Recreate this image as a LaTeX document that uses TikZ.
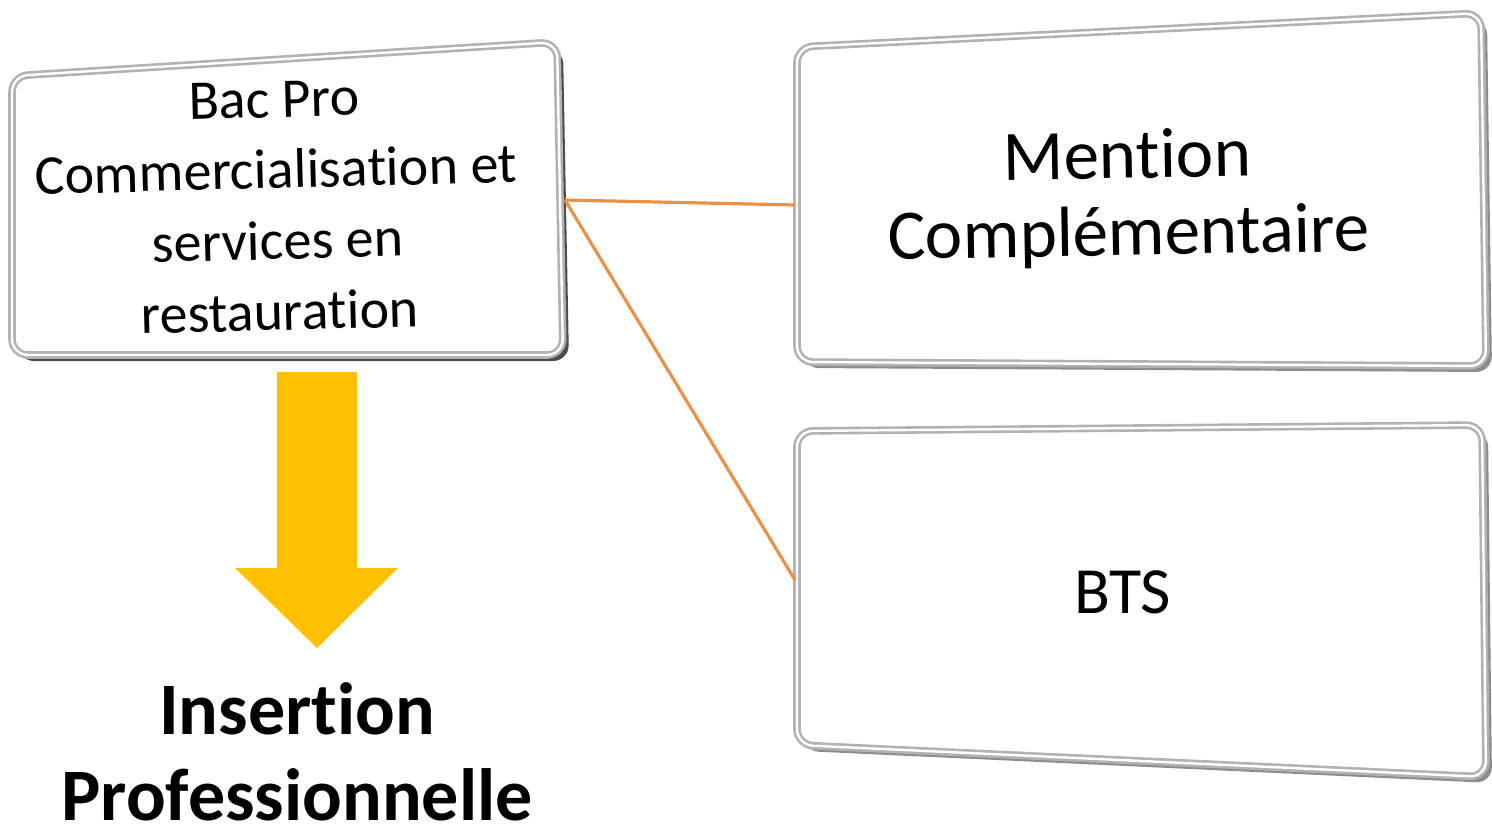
\documentclass[tikz,border=0pt]{standalone}
\usepackage{fontspec}
\setmainfont{Carlito}[Ligatures = {NoCommon, NoContextual}]
\usepackage{tikz}

\definecolor{linkOrange}{HTML}{E8914B}
\definecolor{arrowYellow}{HTML}{FFC000}

\begin{document}
\begin{tikzpicture}[x = 0.5pt, y = -0.5pt,
    boxRim/.style = {draw = gray!60, line width = 3.8pt, fill = white, rounded corners = 8pt},
    boxBevel/.style = {draw = white, line width = 1.2pt, rounded corners = 8pt},
    boxText/.style = {align = center, font = \fontsize{28}{35.5}\selectfont}]
    \useasboundingbox (0,0) rectangle (1492,834);

    \foreach \pA/\pB/\pC/\pD/\shade in {{12,76}/{557,42}/{563,355}/{12,355}/70, {797,47}/{1481,13}/{1486,366}/{797,362}/45, {797,431}/{1482,425}/{1486,777}/{797,745}/45}{
        \begin{scope}[shift = {(6,6)}]
            \fill[black!\shade, rounded corners = 8pt] (\pA) -- (\pB) -- (\pC) -- (\pD) -- cycle;
        \end{scope}
        \draw[boxRim] (\pA) -- (\pB) -- (\pC) -- (\pD) -- cycle;
        \draw[boxBevel] (\pA) -- (\pB) -- (\pC) -- (\pD) -- cycle;
    }

    \node[boxText, rotate = 1.5](bacPro) at (277,206) {Bac Pro\\Commercialisation et\\services en\\restauration};
    \node[boxText, font = \fontsize{35.5}{38.5}\selectfont, rotate = 1](mention) at (1128,198) {Mention\\Compl\'ementaire};
    \node[boxText, font = \fontsize{33}{38}\selectfont](bts) at (1123,592) {BTS};
    \node[align = center, inner sep = 1pt, font = \fontsize{37}{43}\selectfont\bfseries](insertion) at (297,752) {Insertion\\Professionnelle};

    \coordinate (bacPort) at (565,200);
    \coordinate (mentionPort) at (795,205);
    \coordinate (btsPort) at (795,580);
    \draw [linkOrange, line width = 1.6pt] (bacPort) -- (mentionPort);
    \draw [linkOrange, line width = 1.6pt] (bacPort) -- (btsPort);

    \fill[arrowYellow] (277,372) -- (357,372) -- (357,568) -- (398,568) -- (317,648) -- (235,568) -- (277,568) -- cycle;
\end{tikzpicture}
\end{document}
